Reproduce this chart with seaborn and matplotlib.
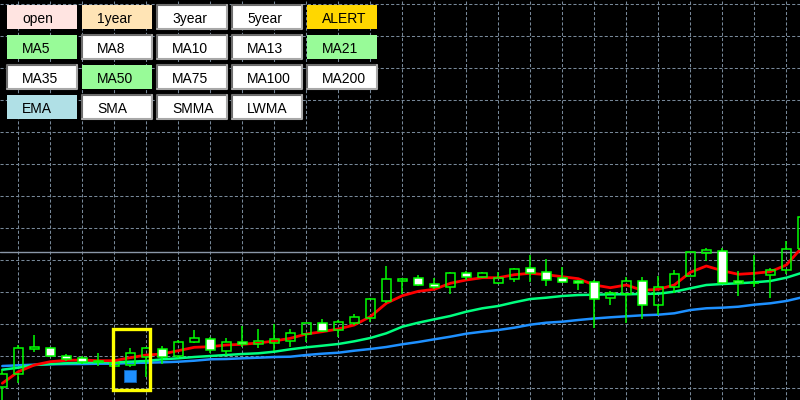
import numpy as np
import pandas as pd
import matplotlib
matplotlib.use("Agg")
import matplotlib.pyplot as plt
from matplotlib.patches import Rectangle
import seaborn as sns

# --- price data (points above the lowest grid line), one entry per bar ---
opens = [1.3, 13.7, 38.7, 39.7, 32.3, 29.7, 27.0, 22.0, 22.7, 31.0,
         39.3, 32.0, 46.3, 48.7, 37.3, 45.7, 43.7, 45.3, 47.3, 54.0,
         64.7, 57.7, 64.7, 69.7, 87.3, 107.3, 109.7, 103.7, 100.7, 114.7,
         111.3, 104.7, 108.7, 119.7, 116.3, 109.7, 107.3, 106.3, 89.7, 94.0,
         106.7, 82.7, 100.7, 112.3, 135.3, 136.7, 107.0, 105.0, 112.7, 117.7,
         138.7]
highs = [18, 43, 53, 41, 34, 32, 35, 38, 39.7, 41,
         42, 48, 58, 50.7, 50, 62, 59, 64, 59, 65.5,
         69, 68, 74, 90, 122, 110.3, 113, 109.7, 116, 116.7,
         116, 115.7, 120, 133, 128.7, 121.3, 108, 108, 97.3, 110.7,
         110.7, 112, 118, 136.5, 139.7, 139.7, 117.3, 133, 119.7, 147,
         173]
lows = [-14, 5, 36.3, 31, 27, 24, 22, 20, 21, 11.3,
        24, 30, 45, 35.3, 33, 41, 40.3, 37.3, 41.3, 46.3,
        56, 51.3, 63, 66.3, 85, 93.7, 102, 98.7, 93.7, 108,
        110, 104, 106.3, 106.3, 102.3, 104.7, 98, 59.7, 83, 64.7,
        68.7, 73, 94.7, 112, 127.3, 104, 92, 101.3, 90.3, 114,
        136]
closes = [14, 40, 40.7, 31.7, 29, 26, 26.5, 25, 34.7, 39.7,
          31.3, 45.7, 49.7, 38, 45.7, 43.7, 47, 48.7, 54.7, 64.7,
          57.3, 65.7, 70.7, 88.7, 108.7, 109, 102.7, 100.7, 114.7, 110.7,
          114.7, 109.7, 118.7, 115.3, 108, 106.3, 104.7, 88.7, 94.7, 106.7,
          82.7, 100.7, 113.7, 136.3, 138, 105.3, 104.7, 105.5, 117.7, 138.7,
          171]

# moving averages
ma_fast = [4.7, 16.3, 23, 26.3, 27.7, 28, 27.3, 27.3, 30.3, 33,
           34, 37.3, 40.7, 41.3, 43, 43.7, 45, 47, 49.7, 54,
           56.3, 59, 63, 71.3, 84.7, 92.3, 96.7, 98.7, 104.7, 108,
           110.3, 110.3, 113.3, 114.7, 113.3, 111.3, 109.3, 103, 100.3, 103,
           97.7, 98.7, 103, 115.7, 122, 117.3, 113.7, 114.7, 116.3, 123,
           141]
ma_mid = [18.3, 20.3, 23, 24, 24.7, 25.3, 25.7, 25.7, 26.3, 27,
          28.7, 29.7, 31, 32, 33, 34, 34.7, 36.3, 38.7, 40.7,
          42.3, 44, 46.7, 50, 54.7, 61.3, 65.3, 68.7, 72, 76.3,
          79.7, 82, 85.7, 89, 90.3, 92, 93, 93.3, 93.7, 93.7,
          94, 94.3, 96.3, 99.7, 103, 104, 104.7, 105.7, 107, 110.3,
          115.3]
ma_slow = [22, 22.7, 23.3, 23.7, 24, 24, 24.3, 24.3, 25, 25.3,
           25.7, 26.3, 27.3, 28.7, 29, 29.7, 30.3, 31, 31.3, 33,
           34.3, 35.3, 37.3, 39, 41, 43.7, 46, 48.7, 51.3, 54.3,
           56.3, 58, 60.3, 63.3, 65.3, 66.3, 68, 69.5, 70.7, 71.7,
           72.7, 73.3, 74.7, 78, 79.7, 80.3, 81.3, 83.3, 84.7, 87,
           90.7]

bid_level = 135.7
alert_bar = 8
alert_level = 11.8

btn_labels = [["open", "1year", "3year", "5year", "ALERT"],
              ["MA5", "MA8", "MA10", "MA13", "MA21"],
              ["MA35", "MA50", "MA75", "MA100", "MA200"],
              ["EMA", "SMA", "SMMA", "LWMA"]]
btn_colors = [["#FFE4E1", "#FFE4B5", "white", "white", "#FFD700"],
              ["#98FB98", "white", "white", "white", "#98FB98"],
              ["white", "#98FB98", "white", "white", "white"],
              ["#B0E0E6", "white", "white", "white"]]

sns.set_theme(style="dark")
plt.rcParams['font.family'] = ['Liberation Sans', 'DejaVu Sans']

fig = plt.figure(figsize=(8, 4), dpi=100, facecolor="black")
ax = fig.add_axes([0, 0, 1, 1])
ax.set_facecolor("black")

bars = np.arange(len(closes))
df = pd.DataFrame({"bar": bars, "fast": ma_fast, "mid": ma_mid, "slow": ma_slow})

# grid
ax.set_xticks(np.arange(1, 50, 2))
ax.set_yticks(np.arange(0, 385, 32))
ax.tick_params(length=0, labelbottom=False, labelleft=False)
ax.grid(True, color="#778899", linestyle=(0, (3, 2)), linewidth=0.75)
ax.set_axisbelow(True)
for s in ax.spines.values():
    s.set_visible(False)

ax.axhline(bid_level, color="#8a97a8", lw=1.0, zorder=1.5)

# moving averages
sns.lineplot(data=df, x="bar", y="slow", color="#1E90FF", lw=1.8, ax=ax, zorder=2)
sns.lineplot(data=df, x="bar", y="mid", color="#00FF7F", lw=1.8, ax=ax, zorder=2)
sns.lineplot(data=df, x="bar", y="fast", color="#FF0000", lw=2.0, ax=ax, zorder=2.1)

# candles
o = np.array(opens); c = np.array(closes)
h = np.array(highs); l = np.array(lows)
top = np.maximum(o, c); bot = np.minimum(o, c)
ax.vlines(bars, top, h, color="#00FF00", lw=1.1, zorder=3)
ax.vlines(bars, l, bot, color="#00FF00", lw=1.1, zorder=3)
fills = ["white" if cc < oo else "none" for oo, cc in zip(opens, closes)]
ax.bar(bars, top - bot, bottom=bot, width=0.58, color=fills,
       edgecolor="#00FF00", linewidth=1.1, zorder=4)

# alert box + signal marker
ax.add_patch(Rectangle((alert_bar - 1.1, -2.3), 2.33, 61.6, fill=False,
                       edgecolor="#FFFF00", lw=2.4, zorder=5))
ax.plot([alert_bar], [alert_level], marker="s", ms=8.6, mfc="#1E90FF",
        mec="#1060b0", mew=0.7, zorder=6)

ax.set_xlim(-0.144, 49.856)
ax.set_ylim(-12, 388)
ax.set_xlabel("")
ax.set_ylabel("")

# button panel
ov = fig.add_axes([0, 0, 1, 1])
ov.set_xlim(0, 800)
ov.set_ylim(400, 0)
ov.axis("off")
ov.patch.set_alpha(0)
for r, row in enumerate(btn_labels):
    for k, lab in enumerate(row):
        x0 = 7.3 + 75 * k
        y0 = 5 + 30 * r
        col = btn_colors[r][k]
        ov.add_patch(Rectangle((x0, y0), 70, 24, facecolor=col, edgecolor="none"))
        if col == "white":
            ov.plot([x0, x0, x0 + 70], [y0 + 24, y0, y0], color="#6e6e6e", lw=1.5)
            ov.plot([x0, x0 + 70, x0 + 70], [y0 + 24, y0 + 24, y0], color="#a8a8a8", lw=1.5)
        ov.text(x0 + 15, y0 + 18.3, lab, fontsize=10, color="black",
                ha="left", va="baseline")

fig.savefig("out.png", dpi=100, facecolor="black")
